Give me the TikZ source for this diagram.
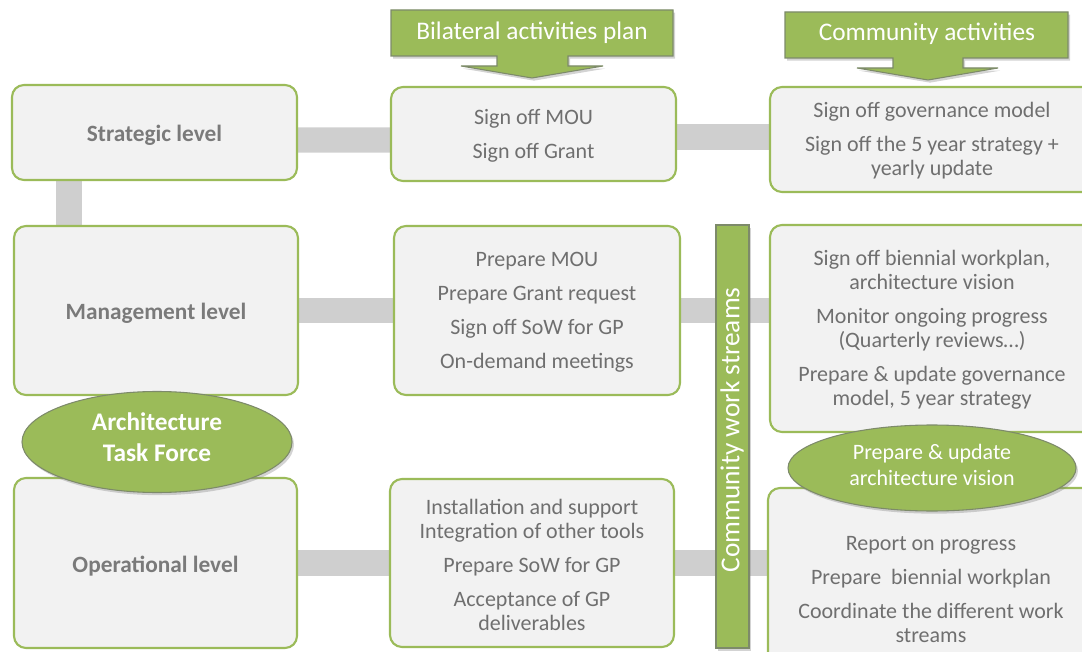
\documentclass[tikz,border=0pt]{standalone}
\usepackage{fontspec}
\setmainfont{Carlito}
\usetikzlibrary{fit,shapes.geometric,shadows,backgrounds}
\definecolor{cgreen}{HTML}{9BBB59}
\definecolor{cfill}{HTML}{F2F2F2}
\definecolor{ctext}{HTML}{6F6F6F}
\definecolor{clabel}{HTML}{7A7A7A}
\definecolor{cconn}{HTML}{CFCFCF}
\definecolor{cedge}{HTML}{7D8A6A}
\tikzset{
  box/.style={draw=cgreen, line width=1.6pt, fill=cfill, rounded corners=9pt, inner sep=0pt},
  boxtext/.style={inner sep=0pt, align=center, text=ctext, yshift=-1.5pt, font=\fontsize{16.5}{18}\selectfont},
  lbl/.style={inner sep=0pt, align=center, text=clabel, yshift=-2pt, font=\fontsize{17.5}{20}\selectfont\bfseries},
  conn/.style={draw=cconn, line width=19pt},
  gshadow/.style={drop shadow={shadow xshift=1.5pt, shadow yshift=-2pt, opacity=0.35}},
  callout/.style={fill=cgreen, draw=cedge, line width=0.8pt, gshadow},
  callouttext/.style={text=white, font=\fontsize{19}{22}\selectfont},
  oval/.style={ellipse, fill=cgreen, draw=cedge, line width=0.8pt, gshadow, inner sep=0pt},
  ovaltext/.style={inner sep=0pt, align=center, text=white},
}
\begin{document}
\begin{tikzpicture}[x=0.75pt,y=-0.75pt]
\useasboundingbox (0,0) rectangle (1082,652);
\clip (0,0) rectangle (1082,652);

% left column
\node[box, fit={(12,85) (297,180)}] (strat) {};
\node[lbl] (strat-t) at (strat.center) {Strategic level};
\node[box, fit={(14,226) (298,395)}] (mgmt) {};
\node[lbl] (mgmt-t) at (mgmt.center) {Management level};
\node[box, fit={(14,478) (297,648)}] (oper) {};
\node[lbl] (oper-t) at (oper.center) {Operational level};

% middle column
\node[box, fit={(391,87) (676,181)}] (bs) {};
\node[boxtext] (bs-t) at (bs.center) {Sign off MOU\\[7.5pt]Sign off Grant};
\node[box, fit={(394,226) (680,395)}] (bm) {};
\node[boxtext] (bm-t) at (bm.center) {Prepare MOU\\[7.5pt]Prepare Grant request\\[7.5pt]Sign off SoW for GP\\[7.5pt]On-demand meetings};
\node[box, fit={(390,479) (674,647)}] (bo) {};
\node[boxtext] (bo-t) at (bo.center) {Installation and support\\Integration of other tools\\[7.5pt]Prepare SoW for GP\\[7.5pt]Acceptance of GP\\deliverables};

% right column
\node[box, fit={(770,87) (1094,192)}] (cs) {};
\node[boxtext] (cs-t) at (932,139) {Sign off governance model\\[7.5pt]Sign off the 5 year strategy +\\yearly update};
\node[box, fit={(770,225) (1094,432)}] (cm) {};
\node[boxtext] (cm-t) at (932,328) {Sign off biennial workplan,\\architecture vision\\[7.5pt]Monitor ongoing progress\\(Quarterly reviews\dots)\\[7.5pt]Prepare \& update governance\\model, 5 year strategy};
\node[box, fit={(768,488) (1094,690)}] (co) {};
\node[boxtext] (co-t) at (931,588) {Report on progress\\[7.5pt]Prepare\ \ biennial workplan\\[7.5pt]Coordinate the different work\\streams};

% connectors
\begin{pgfonlayer}{background}
\draw[conn] ([yshift=-5.6pt]strat.east) -- ([yshift=-4.5pt]bs.west);
\draw[conn] ([yshift=-2.25pt]bs.east) -- ([yshift=-2.25pt]bs.east -| cs.west);
\draw[conn] ([xshift=43.5pt]strat.south west) -- ([xshift=43.5pt]strat.south west |- mgmt.north);
\draw[conn] (mgmt.east) -- (bm.west);
\draw[conn] (bm.east) -- (bm.east -| cm.west);
\draw[conn] (oper.east) -- (bo.west);
\draw[conn] (bo.east) -- (bo.east -| co.west);
\end{pgfonlayer}

% community work streams bar
\node[fill=cgreen, draw=cedge, line width=0.8pt, gshadow, inner sep=0pt,
  fit={(716,225) (749,648)}] (cws) {};
\node[rotate=90, text=white, font=\fontsize{20.5}{24}\selectfont] (cwstext) at (732,430) {Community work streams};

% callouts
\path[callout] (391,10) -- (673,10) -- (673,56) -- (568,56) -- (568,66) -- (603,66)
  -- (532,78) -- (461,66) -- (497,66) -- (497,56) -- (391,56) -- cycle;
\node[callouttext] (bap) at (532,33) {Bilateral activities plan};
\path[callout] (785,12) -- (1068,12) -- (1068,58) -- (963,58) -- (963,68) -- (998,68)
  -- (928,80) -- (857,68) -- (893,68) -- (893,58) -- (785,58) -- cycle;
\node[callouttext] (ca) at (927,34) {Community activities};

% ellipses
\node[oval, minimum width=202.5pt, minimum height=75.75pt] (atf) at (157,442) {};
\node[ovaltext, font=\fontsize{19}{23}\selectfont\bfseries] (atf-t) at (157,437) {Architecture\\Task Force};
\node[oval, minimum width=216pt, minimum height=64.5pt] (puav) at (932,468) {};
\node[ovaltext, font=\fontsize{16.5}{19.5}\selectfont] (puav-t) at (932,465) {Prepare \& update\\architecture vision};
\end{tikzpicture}
\end{document}
